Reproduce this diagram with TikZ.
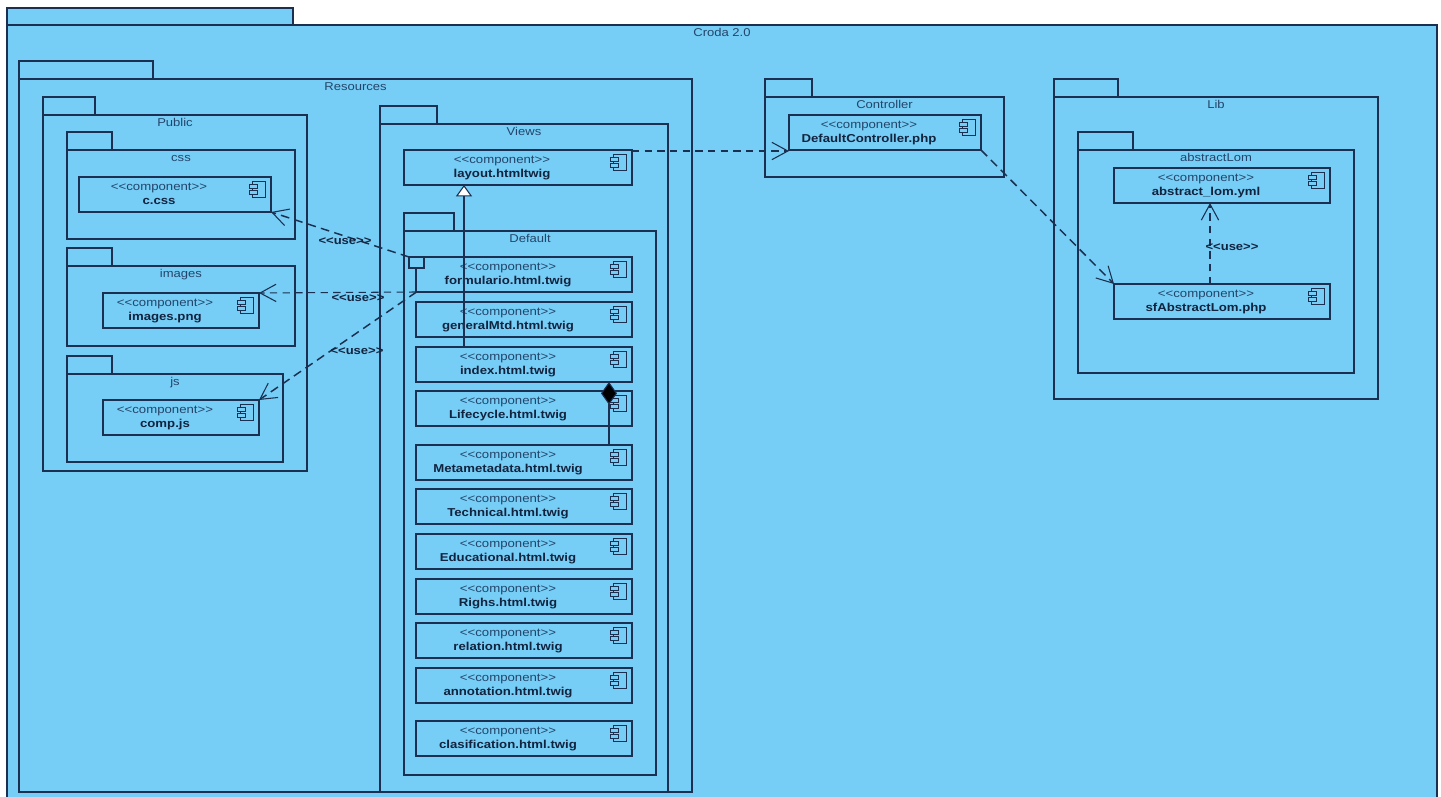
\documentclass[tikz,border=0pt]{standalone}
\usepackage{fontspec}
\usetikzlibrary{arrows.meta,calc}
\setmainfont[FakeStretch=1.15]{Liberation Sans}
\definecolor{bgblue}{HTML}{76CDF5}
\definecolor{linecol}{HTML}{1B2F50}
\definecolor{stereo}{HTML}{24456B}
\definecolor{namecol}{HTML}{12233F}
\tikzset{
  box/.style={draw=linecol,fill=bgblue,line width=0.8pt,inner sep=0pt,outer sep=0pt,anchor=north west},
  pkgtext/.style={text=stereo,font=\fontsize{8.5}{10}\selectfont,inner sep=0pt,anchor=base},
  stereotext/.style={text=stereo,font=\fontsize{8.6}{10}\selectfont,inner sep=0pt,anchor=base},
  nametext/.style={text=namecol,font=\fontsize{8.6}{10}\selectfont\bfseries,inner sep=0pt,anchor=base},
  usetext/.style={text=namecol,font=\fontsize{8.5}{10}\selectfont\bfseries,inner sep=0pt},
  barb/.style={-{Straight Barb[length=12pt,width=13pt,line width=0.8pt]}},
  dep/.style={draw=linecol,line width=0.8pt,dash pattern=on 5.5pt off 4pt,barb},
  depthick/.style={draw=linecol,line width=1.1pt,dash pattern=on 6.5pt off 4pt,barb},
  solidline/.style={draw=linecol,line width=0.8pt},
  iconline/.style={draw=linecol,line width=0.7pt,fill=bgblue}
}
% name, x1, tab right, tab top, body top, x2, y2, label
\newcommand{\pkg}[8]{%
  \node[box,minimum width={(#3-#2)*0.75pt},minimum height={(#5-#4)*0.75pt}] (#1tab) at (#2,#4) {};
  \node[box,minimum width={(#6-#2)*0.75pt},minimum height={(#7-#5)*0.75pt}] (#1) at (#2,#5) {};
  \node[pkgtext] (#1label) at ($(#1.north)+(0,11.5)$) {#8};
}
% name, x1, y1, x2, y2, text
\newcommand{\comp}[6]{%
  \node[box,minimum width={(#4-#2)*0.75pt},minimum height={(#5-#3)*0.75pt}] (#1) at (#2,#3) {};
  \node[stereotext] (#1st) at ({(#2+#4-32)/2},{#3+13.5}) {<{}<component>{}>};
  \node[nametext] (#1nm) at ({(#2+#4-32)/2},{#3+27}) {#6};
  \draw[iconline] ({#4-19},{#3+4}) rectangle ({#4-6},{#3+20});
  \draw[iconline] ({#4-22},{#3+7}) rectangle ({#4-14},{#3+11});
  \draw[iconline] ({#4-22},{#3+13}) rectangle ({#4-14},{#3+17});
}
\begin{document}
\begin{tikzpicture}[x=0.75pt,y=-0.75pt]
\fill[white] (0,0) rectangle (1441,796);
\clip (0,0) rectangle (1441,796);
\pkg{croda}{7}{293}{8}{25}{1437}{806}{Croda 2.0}
\pkg{res}{19}{153}{61}{79}{692}{792}{Resources}
\pkg{pub}{43}{95}{97}{115}{307}{471}{Public}
\pkg{css}{67}{112}{132}{150}{295}{239}{css}
\comp{ccss}{79}{177}{271}{212}{c.css}
\pkg{img}{67}{112}{248}{266}{295}{346}{images}
\comp{imgs}{103}{293}{259}{328}{images.png}
\pkg{js}{67}{112}{356}{374}{283}{462}{js}
\comp{compjs}{103}{400}{259}{435}{comp.js}
\pkg{views}{380}{437}{106}{124}{668}{792}{Views}
\comp{layout}{404}{150}{632}{185}{layout.htmltwig}
\pkg{def}{404}{454}{213}{231}{656}{775}{Default}
\comp{form}{416}{257}{632}{292}{formulario.html.twig}
\comp{gen}{416}{302}{632}{337}{generalMtd.html.twig}
\comp{index}{416}{347}{632}{382}{index.html.twig}
\comp{life}{416}{391}{632}{426}{Lifecycle.html.twig}
\comp{meta}{416}{445}{632}{480}{Metametadata.html.twig}
\comp{tech}{416}{489}{632}{524}{Technical.html.twig}
\comp{edu}{416}{534}{632}{569}{Educational.html.twig}
\comp{righ}{416}{579}{632}{614}{Righs.html.twig}
\comp{rel}{416}{623}{632}{658}{relation.html.twig}
\comp{ann}{416}{668}{632}{703}{annotation.html.twig}
\comp{cla}{416}{721}{632}{756}{clasification.html.twig}
\pkg{ctrl}{765}{812}{79}{97}{1004}{177}{Controller}
\comp{dc}{789}{115}{981}{150}{DefaultController.php}
\pkg{lib}{1054}{1118}{79}{97}{1378}{399}{Lib}
\pkg{abs}{1078}{1133}{132}{150}{1354}{373}{abstractLom}
\comp{yml}{1114}{168}{1330}{203}{abstract\_lom.yml}
\comp{sf}{1114}{284}{1330}{319}{sfAbstractLom.php}
% port on formulario
\node[box,minimum width=11.25pt,minimum height=8.25pt] (port) at (409,257) {};
\coordinate (stemend) at (port.south |- form.south);
\draw[solidline] (port.south) -- (stemend);
% connectors
\coordinate (gx) at (464,0);
\coordinate (cx) at (609,0);
\coordinate (lx) at (1210,0);
\coordinate (ly) at (0,151);
\draw[solidline,-{Triangle[open,fill=white,length=8.5pt,width=12pt,line width=0.8pt]}] (index.north -| gx) -- (layout.south -| gx);
\draw[solidline,{Diamond[fill=black,length=17pt,width=12pt]}-] (index.south -| cx) -- (meta.north -| cx);
\draw[depthick] (port.north west) -- (ccss.south east);
\draw[dep] (stemend) -- (imgs.north east);
\draw[depthick] (stemend) -- (compjs.north east);
\draw[dep] (layout.east |- ly) -- (dc.west |- ly);
\draw[depthick] (dc.south east) -- (sf.north west);
\draw[dep] (sf.north -| lx) -- (yml.south -| lx);
\node[usetext] (use1) at (345,241) {<{}<use>{}>};
\node[usetext] (use2) at (358,298) {<{}<use>{}>};
\node[usetext] (use3) at (357,351) {<{}<use>{}>};
\node[usetext] (use4) at (1232,247) {<{}<use>{}>};
\end{tikzpicture}
\end{document}
